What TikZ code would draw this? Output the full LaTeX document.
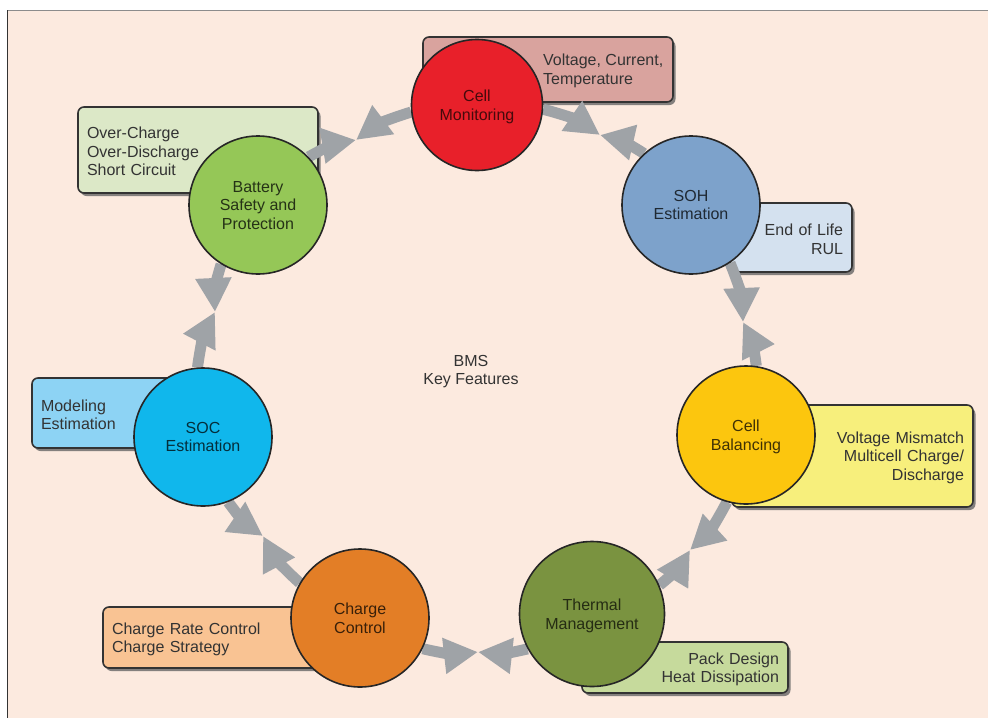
\documentclass[tikz,border=0pt]{standalone}
\usepackage{fontspec}
\setmainfont{Liberation Sans}
\usetikzlibrary{arrows.meta,shadows}

\definecolor{bgpeach}{HTML}{FCEADF}
\definecolor{arrowgray}{HTML}{9FA3A7}
\definecolor{cmred}{HTML}{E8202A}
\definecolor{sohblue}{HTML}{7DA2CB}
\definecolor{cbyellow}{HTML}{FCC60E}
\definecolor{tmgreen}{HTML}{7A9340}
\definecolor{ccorange}{HTML}{E37E26}
\definecolor{socblue}{HTML}{10B7EC}
\definecolor{bsgreen}{HTML}{95C757}
\definecolor{vnote}{HTML}{D9A39E}
\definecolor{onote}{HTML}{DCE8C7}
\definecolor{enote}{HTML}{D4E1EF}
\definecolor{mnote}{HTML}{8DD3F4}
\definecolor{ynote}{HTML}{F7EF7C}
\definecolor{cnote}{HTML}{F9C393}
\definecolor{pnote}{HTML}{C6DA9C}

\pgfdeclarelayer{boxes}
\pgfdeclarelayer{links}
\pgfsetlayers{boxes,links,main}

\begin{document}
\begin{tikzpicture}[x=1pt, y=-1pt,
  feature/.style={circle, draw=black!85, line width=1.6pt, minimum size=138pt, inner sep=0pt, align=center, text depth=-1pt, font=\fontsize{16}{18.5}\selectfont},
  note/.style={rectangle, rounded corners=6pt, draw=black!80, line width=1.6pt, inner xsep=9pt, inner ysep=0pt, text height=15pt, text=black!80, font=\fontsize{16}{18.5}\selectfont, drop shadow={shadow xshift=2.5pt, shadow yshift=-3pt, fill=black!60, opacity=0.8}},
  link/.style={line width=11pt, draw=arrowgray, -{Triangle[width=34pt,length=34pt]}}
]
  \useasboundingbox (0,0) rectangle (988,718);

  \begin{pgfonlayer}{boxes}
    \fill[bgpeach] (7,10) rectangle (988,718);
    \draw[black!45, line width=1.5pt] (7,10.5) -- (988,10.5);
    \draw[black!80, line width=1.5pt] (7.5,10) -- (7.5,718);

    \node[note, fill=vnote, minimum width=250pt, minimum height=65pt] (vbox) at (548,69.5) {};
    \node[anchor=west, align=left, inner sep=0pt, text depth=-1pt, text=black!80, font=\fontsize{16}{18.5}\selectfont] (vtext) at (543,69) {Voltage, Current,\\Temperature};
    \node[note, fill=onote, text width=222pt, minimum height=86pt, align=left] (obox) at (198,150) {Over-Charge\\Over-Discharge\\Short Circuit};
    \node[note, fill=enote, text width=104pt, minimum height=69pt, align=right] (ebox) at (791,237.5) {End of Life\\RUL};
    \node[note, fill=mnote, text width=125pt, minimum height=70pt, align=left] (mbox) at (103.5,413) {Modeling\\Estimation};
    \node[note, fill=ynote, text width=223pt, minimum height=102pt, align=right] (ybox) at (852.5,456) {Voltage Mismatch\\Multicell Charge/\\Discharge};
    \node[note, fill=cnote, text width=199pt, minimum height=61pt, align=left] (cbox) at (211.5,637.5) {Charge Rate Control\\Charge Strategy};
    \node[note, fill=pnote, text width=188pt, minimum height=51pt, align=right] (pbox) at (685,667.5) {Pack Design\\Heat Dissipation};
  \end{pgfonlayer}

  \node[feature, fill=cmred, text=cmred!30!black, minimum size=131pt] (cm) at (477,105) {Cell\\Monitoring};
  \node[feature, fill=sohblue, text=sohblue!25!black] (soh) at (691,205) {SOH\\Estimation};
  \node[feature, fill=cbyellow, text=cbyellow!25!black] (cb) at (746,435) {Cell\\Balancing};
  \node[feature, fill=tmgreen, text=tmgreen!30!black, minimum size=145pt] (tm) at (592,614) {Thermal\\Management};
  \node[feature, fill=ccorange, text=ccorange!25!black] (cc) at (360,618) {Charge\\Control};
  \node[feature, fill=socblue, text=socblue!25!black] (soc) at (203,437) {SOC\\Estimation};
  \node[feature, fill=bsgreen, text=bsgreen!25!black] (bs) at (258,205) {Battery\\Safety and\\Protection};

  \node[align=center, text depth=-1pt, text=black!80, font=\fontsize{16}{18.5}\selectfont] (bms) at (471,370) {BMS\\Key Features};

  \coordinate (m1) at (600,135);
  \coordinate (m2) at (743,322);
  \coordinate (m3) at (690,550);
  \coordinate (m4) at (478,652);
  \coordinate (m5) at (263,536);
  \coordinate (m6) at (215,312);
  \coordinate (m7) at (356,140);

  \begin{pgfonlayer}{links}
    \draw[link] (cm) to[bend left=10] (m1);
    \draw[link] (soh) to[bend right=10] (m1);
    \draw[link] (soh) to[bend left=10] (m2);
    \draw[link] (cb) to[bend right=10] (m2);
    \draw[link] (cb) to[bend left=10] (m3);
    \draw[link] (tm) to[bend right=10] (m3);
    \draw[link] (tm) to[bend left=10] (m4);
    \draw[link] (cc) to[bend right=10] (m4);
    \draw[link] (cc) to[bend left=10] (m5);
    \draw[link] (soc) to[bend right=10] (m5);
    \draw[link] (soc) to[bend left=10] (m6);
    \draw[link] (bs) to[bend right=10] (m6);
    \draw[link] (bs) to[bend left=10] (m7);
    \draw[link] (cm) to[bend right=10] (m7);
  \end{pgfonlayer}
\end{tikzpicture}
\end{document}
